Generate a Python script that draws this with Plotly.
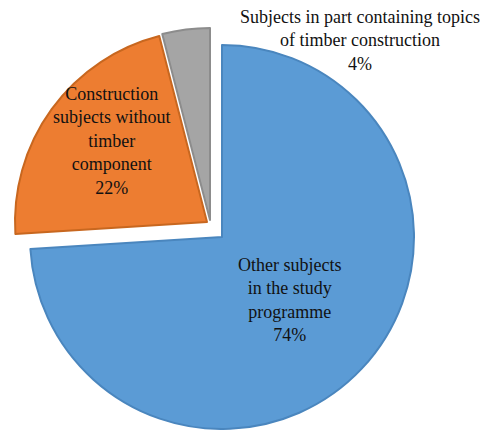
import plotly.graph_objects as go

# ---- data ----
categories = [
    "Other subjects in the study programme",
    "Construction subjects without timber component",
    "Subjects in part containing topics of timber construction",
]
shares = [74, 22, 4]
label_lines = [
    ["Other subjects", "in the study", "programme"],
    ["Construction", "subjects without", "timber", "component"],
    ["Subjects in part containing topics", "of timber construction"],
]

colors = ["#5B9BD5", "#ED7D31", "#A5A5A5"]
edges = ["#4A86BE", "#C8671F", "#8C8C8C"]

# page body has an 8px margin; work in reference pixel coords and shift
OFF = 8
W, H = 492 - OFF, 430 - OFF
R = 192
# slice centres (reference px) – exploded slices are offset individually
centres = [(222, 237), (207, 222), (210, 220)]
# label centres (reference px)
label_pos = [(289, 300), (112, 141), (360, 41)]

fig = go.Figure()
for i, (cx, cy) in enumerate(centres):
    cx, cy = cx - OFF, cy - OFF
    fill = ["rgba(0,0,0,0)"] * len(shares)
    line = ["rgba(0,0,0,0)"] * len(shares)
    fill[i] = colors[i]
    line[i] = edges[i]
    fig.add_trace(go.Pie(
        labels=categories,
        values=shares,
        sort=False,
        direction="clockwise",
        rotation=0,
        marker=dict(colors=fill, line=dict(color=line, width=2)),
        textinfo="none",
        hoverinfo="label+percent",
        showlegend=False,
        domain=dict(
            x=[max(0, (cx - R) / W), min(1, (cx + R) / W)],
            y=[max(0, (H - cy - R) / H), min(1, (H - cy + R) / H)],
        ),
    ))

for i, (px, py) in enumerate(label_pos):
    px, py = px - OFF, py - OFF
    text = "<br>".join(label_lines[i] + [f"{shares[i]}%"])
    fig.add_annotation(
        x=px / W, y=1 - py / H, xref="paper", yref="paper",
        xanchor="center", yanchor="middle",
        text=text, showarrow=False, align="center",
        font=dict(family="Liberation Serif, Times New Roman, serif", size=18, color="#111111"),
    )

fig.update_layout(
    width=W, height=H,
    margin=dict(l=0, r=0, t=0, b=0),
    paper_bgcolor="white",
    plot_bgcolor="white",
)

fig.write_html("out.html")
